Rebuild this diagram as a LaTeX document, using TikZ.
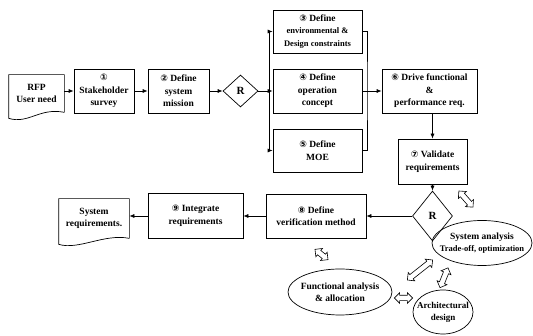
\documentclass[tikz,border=0pt]{standalone}
\usepackage{fontspec}
\setmainfont{Liberation Serif}
\newfontfamily\symfont{DejaVu Sans}
\usepackage{tikz}
\usetikzlibrary{arrows.meta,positioning,calc,shapes.geometric,shapes.arrows}
\newcommand{\cnum}[1]{{\symfont\fontsize{9}{10}\selectfont #1}}

\begin{document}
\begin{tikzpicture}[x=1pt,y=-1pt,
  box/.style={draw,line width=0.7pt,align=center,inner sep=1pt,font=\bfseries\fontsize{9.5}{12.5}\selectfont},
  doc/.style={box,draw=none},
  dia/.style={draw,diamond,line width=0.7pt,inner sep=0pt,font=\bfseries\fontsize{11}{12}\selectfont},
  oval/.style={draw,ellipse,line width=0.7pt,inner sep=0pt},
  ovaltext/.style={align=center,inner sep=0pt,font=\bfseries\fontsize{9.5}{12}\selectfont},
  flow/.style={line width=0.7pt,-{Latex[length=5pt,width=4pt]}},
  link/.style={line width=0.7pt},
  swap/.style={draw,double arrow,line width=0.6pt,fill=white,inner xsep=0pt,inner ysep=2.4pt,
    double arrow head extend=2.6pt,double arrow head indent=0pt}]
\newcommand{\docwave}[1]{\draw[line width=0.7pt] (#1.south east) -- (#1.north east) -- (#1.north west) -- ($(#1.south west)+(0,6)$) .. controls ($(#1.south west)+(20,12)$) and ($(#1.south east)+(-25,-5)$) .. (#1.south east);}
\newcommand{\swaparrow}[2]{\path let \p1=($(#2)-(#1)$), \n1={atan2(\y1,\x1)}, \n2={veclen(\x1,\y1)} in node[swap,rotate=\n1,minimum height=\n2] at ($(#1)!0.5!(#2)$) {};}
\useasboundingbox (0,0) rectangle (533,336);
% top row
\node[doc,minimum width=55,minimum height=37] (rfp) at (36.5,93.5) {RFP\\User need};
\docwave{rfp}
\node[box,minimum width=60,minimum height=44] (s1) at (104,91) {\cnum{①}\\Stakeholder\\survey};
\node[box,minimum width=61,minimum height=44] (s2) at (178.5,91) {\cnum{②} Define\\system\\mission};
\node[dia,minimum width=35,minimum height=32] (r1) at (240.5,91) {R};
\node[box,minimum width=89,minimum height=43] (s3) at (317.5,31.5) {\cnum{③} Define\\{\fontsize{8.5}{11}\selectfont environmental \&}\\{\fontsize{8.5}{11}\selectfont Design constraints}};
\node[box,minimum width=89,minimum height=44] (s4) at (317.5,91) {\cnum{④} Define\\operation\\concept};
\node[box,minimum width=89,minimum height=43] (s5) at (317.5,150.5) {\cnum{⑤} Define\\MOE};
\node[box,minimum width=95,minimum height=44] (s6) at (429.5,91) {\cnum{⑥} Drive functional\\\&\\performance req.};
\node[box,minimum width=69,minimum height=45] (s7) at (432.5,161.5) {\cnum{⑦} Validate\\requirements};
% bottom row
\node[dia,minimum width=40,minimum height=50] (r2) at (432.5,216) {R};
\node[box,minimum width=100,minimum height=44] (s8) at (316,216) {\cnum{⑧} Define\\verification method};
\node[box,minimum width=95,minimum height=45] (s9) at (195.5,216) {\cnum{⑨} Integrate\\requirements};
\node[doc,minimum width=70,minimum height=39] (srq) at (94,218.5) {System\\requirements.};
\docwave{srq}
% analysis loop
\node[oval,minimum width=100,minimum height=45,
  label={[ovaltext]center:System analysis\\{\fontsize{8.5}{10}\selectfont Trade-off, optimization}}] (sa) at (482,243) {};
\node[oval,minimum width=104,minimum height=46,
  label={[ovaltext]center:Functional analysis\\\& allocation}] (fa) at (340,292) {};
\node[oval,minimum width=60,minimum height=44,
  label={[ovaltext,font=\bfseries\fontsize{9}{12}\selectfont]center:Architectural\\design}] (ad) at (443,312) {};
% connectors
\draw[flow] (rfp.east |- s1) -- (s1);
\draw[flow] (s1) -- (s2);
\draw[flow] (s2) -- (r1);
\draw[flow] (r1) -- (s4);
\coordinate (busL) at (269,91);
\draw[flow] (busL) |- (s3);
\draw[flow] (busL) |- (s5);
\coordinate (busR) at (367,91);
\draw[link] (s3) -| (busR) |- (s5);
\draw[flow] (s4) -- (s6);
\draw[flow] (s6.south -| s7) -- (s7);
\draw[flow] (s7) -- (r2);
\draw[flow] (r2) -- (s8);
\draw[flow] (s8) -- (s9);
\draw[flow] (s9) -- (s9 -| srq.east);
% trade-off loop arrows
\coordinate (r2a) at ($(r2.east)+(6,-25)$);
\coordinate (saa) at ($(sa.north)+(-9,-13)$);
\coordinate (s8a) at ($(s8.south)+(-1,11)$);
\coordinate (faa) at ($(fa.north)+(-12,-9)$);
\coordinate (fab) at ($(fa.east)+(15,-12)$);
\coordinate (sab) at ($(sa.west)+(1,17)$);
\coordinate (sac) at ($(sa.south)+(-34,2)$);
\coordinate (ada) at ($(ad.north)+(-3,-2)$);
\coordinate (fac) at ($(fa.east)+(2,6)$);
\coordinate (adb) at ($(ad.west)+(0,-14)$);
\swaparrow{r2a}{saa}
\swaparrow{s8a}{faa}
\swaparrow{fab}{sab}
\swaparrow{sac}{ada}
\swaparrow{fac}{adb}
\end{tikzpicture}
\end{document}
